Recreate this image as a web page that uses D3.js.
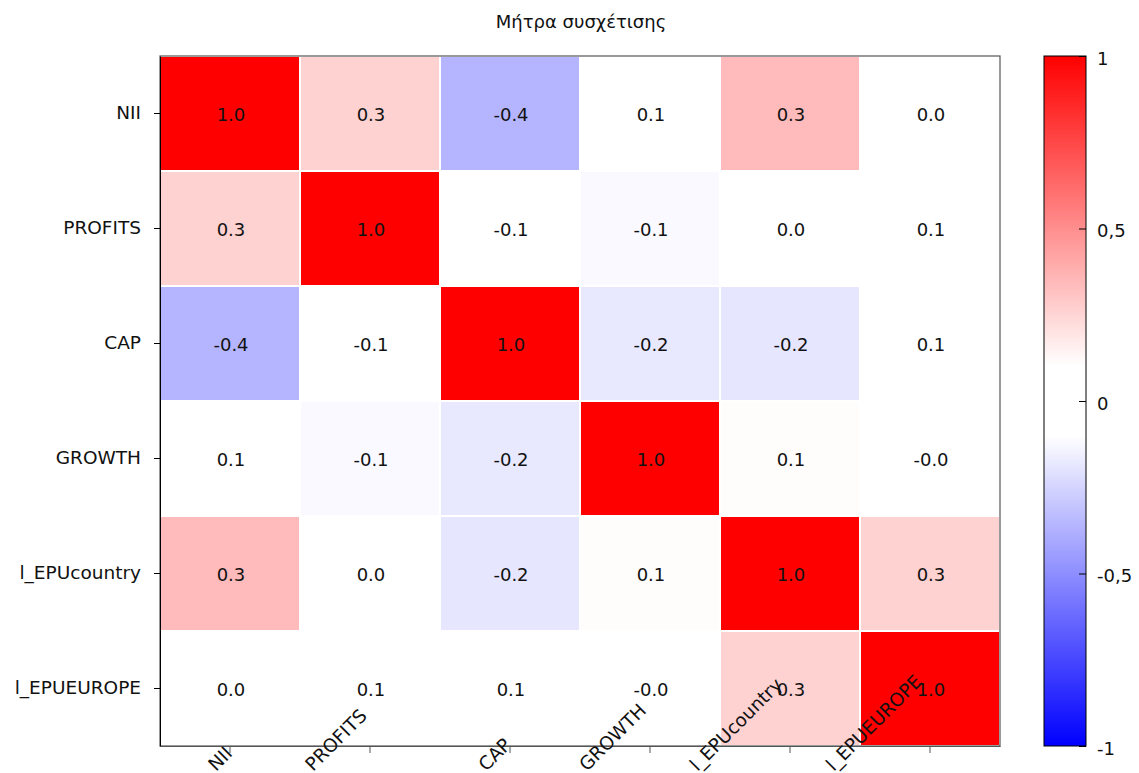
<!DOCTYPE html>
<html>
<head>
<meta charset="utf-8">
<script src="https://cdn.jsdelivr.net/npm/d3@7"></script>
<style>
  body { margin: 0; background: #fff; }
  text { font-family: "DejaVu Sans", Verdana, sans-serif; }
</style>
</head>
<body>
<div id="chart"></div>
<script>
// variables of the correlation matrix (rows top->bottom, columns left->right)
const variables = ['NII', 'PROFITS', 'CAP', 'GROWTH', 'l_EPUcountry', 'l_EPUEUROPE']

// one row per variable (colour used for the 2nd decimal)
const rowNII = [1.00, 0.26, -0.36, 0.08, 0.34, 0.02]
const rowPROFITS = [0.26, 1.00, -0.08, -0.12, 0.01, 0.06]
const rowCAP = [-0.36, -0.08, 1.00, -0.18, -0.19, 0.07]
const rowGROWTH = [0.08, -0.12, -0.18, 1.00, 0.11, -0.02]
const rowEPUcountry = [0.34, 0.01, -0.19, 0.11, 1.00, 0.26]
const rowEPUEUROPE = [0.02, 0.06, 0.07, -0.02, 0.26, 1.00]
const rows = [rowNII, rowPROFITS, rowCAP, rowGROWTH, rowEPUcountry, rowEPUEUROPE]

const colorbarTicks = [1, 0.5, 0, -0.5, -1]
const title = 'Μήτρα συσχέτισης'

const width = 1139, height = 773
const plot = {left: 160, right: 1000, top: 56, bottom: 746}
const cb = {left: 1044, right: 1086}
const fontFamily = '"DejaVu Sans", Verdana, sans-serif'

const cells = []
rows.forEach((r, i) => r.forEach((v, j) => {
  cells.push({row: variables[i], col: variables[j], value: v})
}))

const color = d3.scaleLinear()
  .domain([-1, -0.1, 0.1, 1])
  .range(['#0000ff', '#ffffff', '#ffffff', '#ff0000'])
  .clamp(true)

// toFixed keeps the "-0.0" that gretl prints
const cellFmt = v => v.toFixed(1)
const cbFmt = d3.formatLocale({decimal: ',', thousands: '.', grouping: [3], currency: ['', ''], minus: '-'}).format('')

const xScale = d3.scaleBand().domain(variables).range([plot.left, plot.right])
const yScale = d3.scaleBand().domain(variables).range([plot.top, plot.bottom])
const cbScale = d3.scaleLinear().domain([-1, 1]).range([plot.bottom, plot.top])

const svg = d3.select('#chart').append('svg')
  .attr('width', width)
  .attr('height', height)

svg.append('text')
  .attr('x', (plot.left + plot.right) / 2 + 1)
  .attr('y', 28)
  .attr('text-anchor', 'middle')
  .style('font-size', '18px')
  .style('fill', '#111')
  .text(title)

// heatmap cells
svg.append('g').selectAll('rect').data(cells)
  .enter().append('rect')
  .attr('x', d => xScale(d.col) + 1)
  .attr('y', d => yScale(d.row) + 1)
  .attr('width', xScale.bandwidth() - 2)
  .attr('height', yScale.bandwidth() - 2)
  .style('fill', d => color(d.value))

svg.append('g').selectAll('text').data(cells)
  .enter().append('text')
  .attr('x', d => xScale(d.col) + xScale.bandwidth() / 2 + 1)
  .attr('y', d => yScale(d.row) + yScale.bandwidth() / 2 + 1)
  .attr('dy', '0.35em')
  .attr('text-anchor', 'middle')
  .style('font-size', '18px')
  .style('fill', '#111')
  .text(d => cellFmt(d.value))

// frame
svg.append('rect')
  .attr('x', plot.left)
  .attr('y', plot.top)
  .attr('width', plot.right - plot.left)
  .attr('height', plot.bottom - plot.top)
  .style('fill', 'none')
  .style('stroke', '#555')
  .style('stroke-width', 1.2)

// y axis
const yAxis = svg.append('g')
  .attr('transform', `translate(${plot.left}, 0)`)
  .call(d3.axisLeft(yScale).tickSize(6).tickSizeOuter(0).tickPadding(13))
yAxis.select('.domain').style('stroke', '#000')
yAxis.selectAll('text')
  .style('font-size', '18.5px')
  .style('font-family', fontFamily)
  .style('fill', '#111')

// x axis, rotated labels placed the way gnuplot did it
const xAxis = svg.append('g')
  .attr('transform', `translate(0, ${plot.bottom})`)
  .call(d3.axisBottom(xScale).tickSize(7).tickSizeOuter(0))
xAxis.select('.domain').style('stroke', '#555')
xAxis.selectAll('line').style('stroke', '#555')
xAxis.selectAll('text')
  .style('font-size', '18.5px')
  .style('font-family', fontFamily)
  .style('fill', '#111')
  .attr('text-anchor', 'start')
  .attr('y', 0)
  .attr('dy', 0)
  .each(function () {
    const w = this.getComputedTextLength()
    d3.select(this).attr('transform', `translate(${-0.81 * w + 6}, 26) rotate(-45)`)
  })

// colour bar
const defs = svg.append('defs')
const grad = defs.append('linearGradient')
  .attr('id', 'cbgrad')
  .attr('x1', 0).attr('y1', 1).attr('x2', 0).attr('y2', 0)
grad.selectAll('stop').data(d3.range(0, 1.0001, 0.025))
  .enter().append('stop')
  .attr('offset', d => d)
  .attr('stop-color', d => color(-1 + 2 * d))

svg.append('rect')
  .attr('x', cb.left)
  .attr('y', plot.top)
  .attr('width', cb.right - cb.left)
  .attr('height', plot.bottom - plot.top)
  .style('fill', 'url(#cbgrad)')
  .style('stroke', '#000')
  .style('stroke-width', 1)

const cbAxis = svg.append('g')
  .attr('transform', `translate(${cb.right}, 0)`)
  .call(d3.axisRight(cbScale).tickValues(colorbarTicks).tickSize(-7).tickPadding(11).tickFormat(cbFmt))
cbAxis.select('.domain').remove()
cbAxis.selectAll('line').style('stroke', '#000')
cbAxis.selectAll('text')
  .attr('dy', '0.45em')
  .style('font-size', '18px')
  .style('font-family', fontFamily)
  .style('fill', '#111')
</script>
</body>
</html>
